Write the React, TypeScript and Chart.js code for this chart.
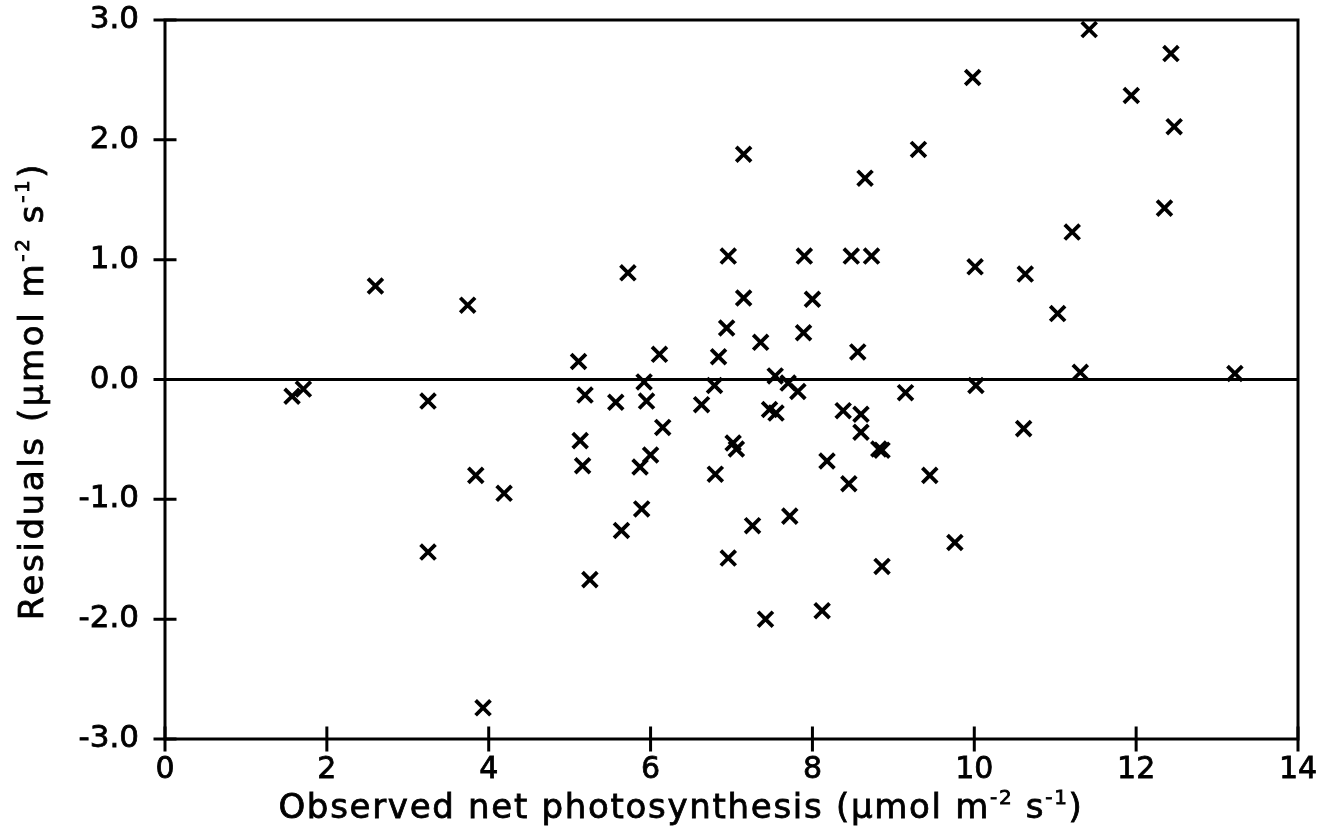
import React, { useEffect, useRef } from "react";
import { Chart, registerables } from "chart.js";

Chart.register(...registerables);

// Observed net photosynthesis (x) and residuals (y)
const observedX = [
  1.57, 1.71, 2.6, 3.25, 3.25, 3.74, 3.84, 3.93, 4.19, 5.11,
  5.13, 5.16, 5.19, 5.25, 5.57, 5.64, 5.72, 5.87, 5.89, 5.92,
  5.95, 6.0, 6.11, 6.15, 6.63, 6.79, 6.8, 6.84, 6.94, 6.96,
  6.96, 7.02, 7.06, 7.15, 7.15, 7.26, 7.36, 7.42, 7.47, 7.54,
  7.55, 7.7, 7.72, 7.82, 7.89, 7.9, 8.0, 8.12, 8.18, 8.38,
  8.45, 8.48, 8.56, 8.6, 8.6, 8.65, 8.73, 8.82, 8.86, 8.86,
  9.15, 9.31, 9.45, 9.76, 9.98, 10.01, 10.02, 10.61, 10.63, 11.03,
  11.21, 11.31, 11.42, 11.94, 12.35, 12.43, 12.47, 13.22,
];
const residualY = [
  -0.14, -0.08, 0.78, -0.18, -1.44, 0.62, -0.8, -2.74, -0.95, 0.15,
  -0.51, -0.72, -0.13, -1.67, -0.19, -1.26, 0.89, -0.73, -1.08, -0.02,
  -0.18, -0.63, 0.21, -0.4, -0.21, -0.05, -0.79, 0.19, 0.43, 1.03,
  -1.49, -0.53, -0.58, 1.88, 0.68, -1.22, 0.31, -2.0, -0.25, 0.03,
  -0.28, -0.03, -1.14, -0.1, 0.39, 1.03, 0.67, -1.93, -0.68, -0.26,
  -0.87, 1.03, 0.23, -0.29, -0.44, 1.68, 1.03, -0.58, -0.59, -1.56,
  -0.11, 1.92, -0.8, -1.36, 2.52, 0.94, -0.05, -0.41, 0.88, 0.55,
  1.23, 0.06, 2.92, 2.37, 1.43, 2.72, 2.11, 0.05,
];

const xMin = 0;
const xMax = 14;
const xStep = 2;
const yMin = -3;
const yMax = 3;
const yStep = 1;

type Part = { text: string; sup?: boolean };
const xTitleParts: Part[] = [
  { text: "Observed net photosynthesis (µmol m" },
  { text: "-2", sup: true },
  { text: " s" },
  { text: "-1", sup: true },
  { text: ")" },
];
const yTitleParts: Part[] = [
  { text: "Residuals (µmol m" },
  { text: "-2", sup: true },
  { text: " s" },
  { text: "-1", sup: true },
  { text: ")" },
];

const FONT = "'DejaVu Sans', 'Liberation Sans', sans-serif";
const TITLE_SIZE = 34;

function partFont(p: Part) {
  return `${p.sup ? Math.round(TITLE_SIZE * 0.6) : TITLE_SIZE}px ${FONT}`;
}

function drawParts(ctx: CanvasRenderingContext2D, parts: Part[], cx: number, baseline: number, spacing: number) {
  (ctx as any).letterSpacing = spacing + "px";
  let total = 0;
  for (const p of parts) {
    ctx.font = partFont(p);
    total += ctx.measureText(p.text).width;
  }
  let x = cx - total / 2;
  for (const p of parts) {
    ctx.font = partFont(p);
    const y = p.sup ? baseline - TITLE_SIZE * 0.42 : baseline;
    ctx.fillText(p.text, x, y);
    ctx.strokeText(p.text, x, y);
    x += ctx.measureText(p.text).width;
  }
}

const framePlugin = {
  id: "frameAndTitles",
  beforeDatasetsDraw(chart: any) {
    const { ctx, chartArea } = chart;
    const y0 = chart.scales.y.getPixelForValue(0);
    ctx.save();
    ctx.strokeStyle = "#000";
    ctx.lineWidth = 3;
    ctx.beginPath();
    ctx.moveTo(chartArea.left, y0);
    ctx.lineTo(chartArea.right, y0);
    ctx.stroke();
    ctx.restore();
  },
  afterDraw(chart: any) {
    const { ctx, chartArea } = chart;
    const xs = chart.scales.x;
    const ys = chart.scales.y;
    ctx.save();
    ctx.strokeStyle = "#000";
    ctx.lineWidth = 3;
    ctx.lineCap = "square";
    ctx.strokeRect(chartArea.left, chartArea.top, chartArea.right - chartArea.left, chartArea.bottom - chartArea.top);
    ctx.beginPath();
    for (let v = yMin; v <= yMax; v += yStep) {
      const p = ys.getPixelForValue(v);
      ctx.moveTo(chartArea.left - 10, p);
      ctx.lineTo(chartArea.left + 10, p);
    }
    for (let v = xMin; v <= xMax; v += xStep) {
      const p = xs.getPixelForValue(v);
      ctx.moveTo(p, chartArea.bottom - 11);
      ctx.lineTo(p, chartArea.bottom + 11);
    }
    ctx.stroke();

    ctx.fillStyle = "#000";
    ctx.lineWidth = 0.8;
    ctx.lineCap = "butt";
    ctx.textAlign = "left";
    ctx.textBaseline = "alphabetic";
    drawParts(ctx, xTitleParts, chartArea.left + 516, 818, 1.7);
    ctx.translate(43, (chartArea.top + chartArea.bottom) / 2 + 11.5);
    ctx.rotate(-Math.PI / 2);
    drawParts(ctx, yTitleParts, 0, 0, 2.6);
    ctx.restore();
  },
};

export default function App() {
  const ref = useRef<HTMLCanvasElement | null>(null);

  useEffect(() => {
    document.body.style.margin = "0";
    const canvas = ref.current;
    if (!canvas) return;
    const points = observedX.map((x, i) => ({ x, y: residualY[i] }));
    const chart = new Chart(canvas, {
      type: "scatter",
      data: {
        datasets: [
          {
            data: points,
            pointStyle: "crossRot",
            pointRadius: 10.5,
            pointBorderWidth: 3.8,
            borderColor: "#000",
            backgroundColor: "#000",
          },
        ],
      },
      options: {
        responsive: false,
        animation: false,
        devicePixelRatio: 1,
        events: [],
        layout: { padding: { top: 20, right: 28, left: 0, bottom: 0 } },
        plugins: { legend: { display: false }, tooltip: { enabled: false } },
        scales: {
          x: {
            type: "linear",
            min: xMin,
            max: xMax,
            grid: { display: false, drawTicks: false },
            border: { display: false },
            ticks: {
              stepSize: xStep,
              padding: 13,
              color: "#000",
              maxRotation: 0,
              autoSkip: false,
              textStrokeColor: "#000",
              textStrokeWidth: 0.8,
              font: { family: FONT, size: 30 },
              callback: (v: any) => String(v),
            },
            afterFit: (s: any) => {
              s.height = 93;
              s.paddingLeft = 0;
              s.paddingRight = 0;
            },
          },
          y: {
            type: "linear",
            min: yMin,
            max: yMax,
            grid: { display: false, drawTicks: false },
            border: { display: false },
            ticks: {
              stepSize: yStep,
              padding: 26,
              color: "#000",
              autoSkip: false,
              textStrokeColor: "#000",
              textStrokeWidth: 0.8,
              font: { family: FONT, size: 31 },
              callback: (v: any) => Number(v).toFixed(1),
            },
            afterFit: (s: any) => {
              s.width = 165;
              s.paddingTop = 0;
              s.paddingBottom = 0;
            },
          },
        },
      },
      plugins: [framePlugin],
    } as any);
    return () => chart.destroy();
  }, []);

  return (
    <div style={{ width: 1326, height: 832, background: "#fff" }}>
      <canvas ref={ref} width={1326} height={832} style={{ display: "block" }} />
    </div>
  );
}
